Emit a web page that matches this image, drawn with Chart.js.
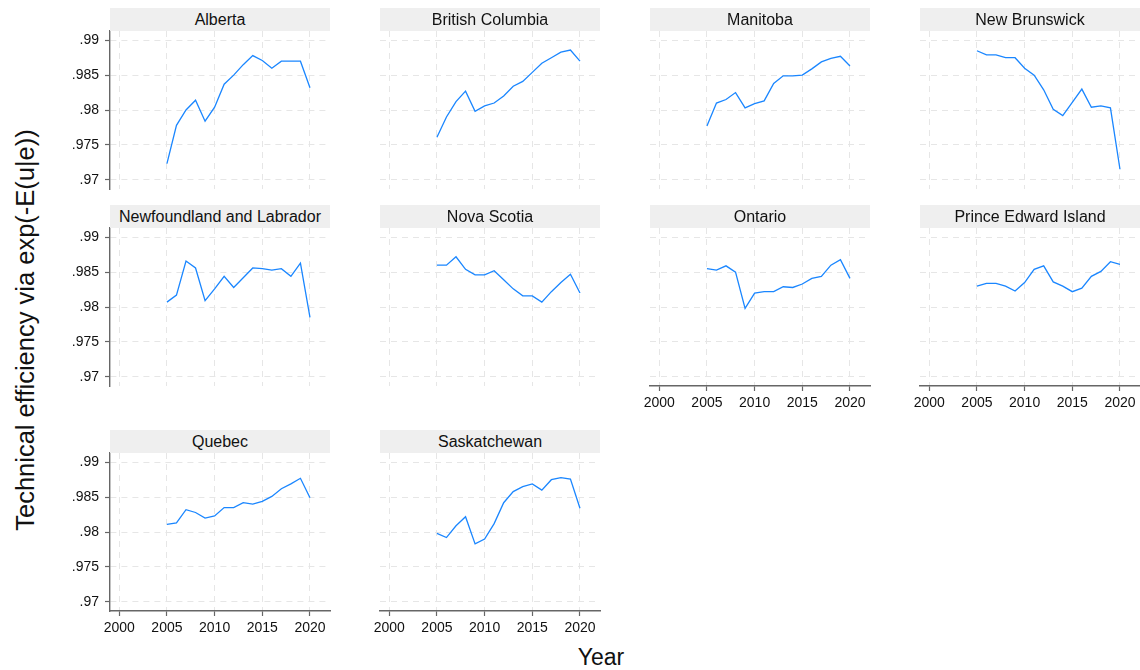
<!DOCTYPE html>
<html>
<head>
<meta charset="utf-8">
<title>Technical efficiency by province</title>
<script src="https://cdn.jsdelivr.net/npm/chart.js@4.4.1/dist/chart.umd.min.js"></script>
<style>
  body { margin: 0; background: #fff; font-family: "Liberation Sans", Arial, sans-serif; }
  #page { position: relative; width: 1140px; height: 670px; overflow: hidden; }
  #page canvas { position: absolute; z-index: 1; }
  .strip { position: absolute; height: 23px; line-height: 23px; background: #efefef; text-align: center;
           font-size: 16px; color: #111; z-index: 2; white-space: nowrap; }
  #ytitle { position: absolute; left: 25px; top: 330px; transform: translate(-50%, -50%) rotate(-90deg);
            font-size: 25.5px; white-space: nowrap; color: #111; }
  #xtitle { position: absolute; left: 601px; top: 657px; transform: translate(-50%, -50%);
            font-size: 23px; color: #111; }
</style>
</head>
<body>
<div id="page">
  <div id="ytitle">Technical efficiency via exp(-E(u|e))</div>
  <div id="xtitle">Year</div>
</div>
<script>
const years = [2005, 2006, 2007, 2008, 2009, 2010, 2011, 2012, 2013, 2014, 2015, 2016, 2017, 2018, 2019, 2020];

const alberta         = [.9723, .9778, .9800, .9814, .9784, .9804, .9837, .9850, .9865, .9878, .9871, .9860, .9870, .9870, .9870, .9832];
const britishColumbia = [.9761, .9790, .9812, .9827, .9798, .9806, .9810, .9820, .9834, .9841, .9854, .9867, .9875, .9883, .9886, .9870];
const manitoba        = [.9777, .9810, .9815, .9825, .9803, .9809, .9813, .9838, .9849, .9849, .9850, .9859, .9869, .9874, .9877, .9863];
const newBrunswick    = [.9885, .9879, .9879, .9875, .9875, .9860, .9850, .9829, .9801, .9792, .9811, .9830, .9804, .9806, .9803, .9715];
const newfoundland    = [.9807, .9817, .9866, .9856, .9809, .9826, .9844, .9828, .9842, .9856, .9855, .9853, .9855, .9844, .9863, .9785];
const novaScotia      = [.9860, .9860, .9872, .9854, .9846, .9846, .9852, .9839, .9826, .9816, .9816, .9807, .9822, .9835, .9847, .9820];
const ontario         = [.9855, .9853, .9859, .9850, .9798, .9820, .9822, .9822, .9829, .9828, .9833, .9841, .9844, .9860, .9868, .9841];
const princeEdward    = [.9830, .9834, .9834, .9830, .9823, .9835, .9854, .9859, .9836, .9830, .9822, .9827, .9844, .9851, .9865, .9861];
const quebec          = [.9811, .9813, .9832, .9828, .9820, .9823, .9835, .9835, .9842, .9840, .9844, .9851, .9862, .9869, .9877, .9849];
const saskatchewan    = [.9798, .9792, .9809, .9822, .9783, .9790, .9812, .9842, .9858, .9865, .9869, .9860, .9875, .9878, .9876, .9834];

const provinces = ["Alberta", "British Columbia", "Manitoba", "New Brunswick",
                   "Newfoundland and Labrador", "Nova Scotia", "Ontario", "Prince Edward Island",
                   "Quebec", "Saskatchewan"];
const series = [alberta, britishColumbia, manitoba, newBrunswick, newfoundland,
                novaScotia, ontario, princeEdward, quebec, saskatchewan];

const xTicks = [2000, 2005, 2010, 2015, 2020];
const xTickLabels = ["2000", "2005", "2010", "2015", "2020"];
const yTicks = [.97, .975, .98, .985, .99];
const yTickLabels = [".97", ".975", ".98", ".985", ".99"];

// panel geometry (plot area of each small multiple)
const colLeft = [110, 380, 650, 920];
const rowTop = [31, 228, 453];
const plotW = 220, plotH = 158;
const pad = 16;
const fontFamily = '"Liberation Sans", Arial, sans-serif';

document.addEventListener("DOMContentLoaded", function() {

    const page = document.getElementById('page');

    provinces.forEach(function(name, i) {
        const col = i % 4;
        const row = Math.floor(i / 4);
        const showY = col === 0;
        // x axis only at the bottom panel of each column
        const showX = row === 2 || (row === 1 && col >= 2);
        const yW = showY ? 60 : 0;
        const xH = showX ? 30 : 0;

        const cv = document.createElement('canvas');
        cv.width = pad + yW + plotW + pad;
        cv.height = pad + plotH + xH + pad;
        cv.style.left = (colLeft[col] - pad - yW) + 'px';
        cv.style.top = (rowTop[row] - pad) + 'px';
        page.appendChild(cv);

        const strip = document.createElement('div');
        strip.className = 'strip';
        strip.textContent = name;
        strip.style.left = colLeft[col] + 'px';
        strip.style.top = (rowTop[row] - 23) + 'px';
        strip.style.width = plotW + 'px';
        page.appendChild(strip);

        new Chart(cv.getContext('2d'), {
            type: 'line',
            data: {
                datasets: [{
                    label: name,
                    data: years.map(function(yr, k) { return { x: yr, y: series[i][k] }; }),
                    borderColor: '#1a86ff',
                    borderWidth: 1.3,
                    pointRadius: 0,
                    fill: false,
                    tension: 0
                }]
            },
            options: {
                responsive: false,
                animation: false,
                layout: { padding: pad },
                plugins: {
                    legend: { display: false },
                    tooltip: { enabled: false }
                },
                scales: {
                    x: {
                        type: 'linear',
                        min: 1999.03,
                        max: 2022.1,
                        afterBuildTicks: function(s) { s.ticks = xTicks.map(function(v) { return { value: v }; }); },
                        afterFit: function(s) { s.height = xH; },
                        grid: {
                            color: '#e6e6e6',
                            drawTicks: showX,
                            tickLength: 5,
                            tickColor: '#666',
                            tickWidth: 1.2
                        },
                        border: { display: showX, color: '#666', width: 1.4, dash: [6, 5] },
                        ticks: {
                            display: showX,
                            color: '#111',
                            padding: 4,
                            maxRotation: 0,
                            autoSkip: false,
                            font: { size: 14, family: fontFamily },
                            callback: function(value, index) { return xTickLabels[index]; }
                        }
                    },
                    y: {
                        min: 0.96867,
                        max: 0.99133,
                        afterBuildTicks: function(s) { s.ticks = yTicks.map(function(v) { return { value: v }; }); },
                        afterFit: function(s) { s.width = yW; },
                        grid: {
                            color: '#e6e6e6',
                            drawTicks: showY,
                            tickLength: 5,
                            tickColor: '#666',
                            tickWidth: 1.2
                        },
                        border: { display: showY, color: '#666', width: 1.4, dash: [6, 5] },
                        ticks: {
                            display: showY,
                            color: '#111',
                            padding: 6,
                            font: { size: 14, family: fontFamily },
                            callback: function(value, index) { return yTickLabels[index]; }
                        }
                    }
                }
            }
        });
    });

});
</script>
</body>
</html>
